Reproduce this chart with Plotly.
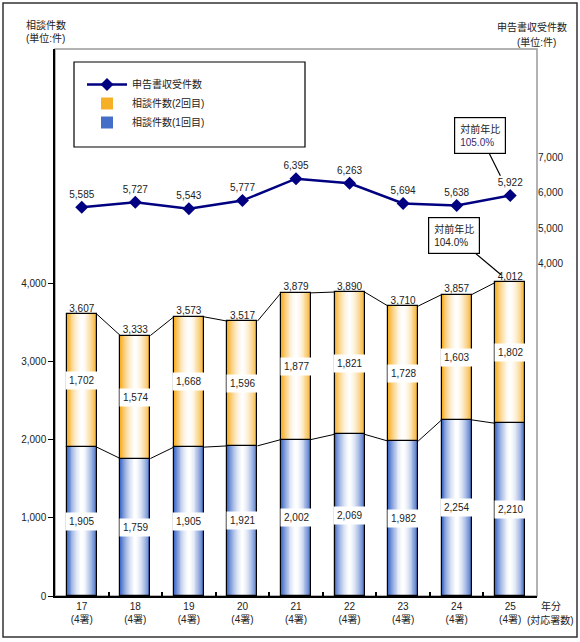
import plotly.graph_objects as go

# ---------------- data ----------------
years = ["17", "18", "19", "20", "21", "22", "23", "24", "25"]
stations = ["4署", "4署", "4署", "4署", "4署", "4署", "4署", "4署", "4署"]
consult_1st = [1905, 1759, 1905, 1921, 2002, 2069, 1982, 2254, 2210]
consult_2nd = [1702, 1574, 1668, 1596, 1877, 1821, 1728, 1603, 1802]
filings = [5585, 5727, 5543, 5777, 6395, 6263, 5694, 5638, 5922]
left_ticks = [0, 1000, 2000, 3000, 4000]
right_ticks = [4000, 5000, 6000, 7000]

FONT = "Liberation Sans, Noto Sans CJK JP, sans-serif"
BLUE_EDGE = (68, 110, 200)
ORANGE_EDGE = (246, 176, 40)
W = 0.56
N_LAYERS = 16

idx = list(range(len(years)))
totals = [a + b for a, b in zip(consult_1st, consult_2nd)]


def mix(c, a):
    r, g, b = (int(round(255 + (ci - 255) * a)) for ci in c)
    return f"rgb({r},{g},{b})"


fig = go.Figure()

# gradient-filled bars built from nested overlay bars
for seg, base, edge, name, rank in [
    (consult_1st, [0] * len(idx), BLUE_EDGE, "相談件数(1回目)", 3),
    (consult_2nd, consult_1st, ORANGE_EDGE, "相談件数(2回目)", 2),
]:
    for k in range(N_LAYERS):
        frac = (N_LAYERS - k) / N_LAYERS
        a = frac ** 1.7
        fig.add_trace(go.Bar(
            x=idx, y=seg, base=base, width=W * frac,
            marker=dict(color=mix(edge, a), line=dict(width=0)),
            name=name, showlegend=(k == 0), legendrank=rank,
            hoverinfo="skip", yaxis="y",
        ))
    # outline
    fig.add_trace(go.Bar(
        x=idx, y=seg, base=base, width=W,
        marker=dict(color="rgba(0,0,0,0)", line=dict(width=1.2, color="black")),
        showlegend=False, hoverinfo="skip", yaxis="y",
    ))

# series lines between bars
for tops in (consult_1st, totals):
    xs, ys = [], []
    for i in range(len(idx) - 1):
        xs += [idx[i] + W / 2, idx[i + 1] - W / 2, None]
        ys += [tops[i], tops[i + 1], None]
    fig.add_trace(go.Scatter(x=xs, y=ys, mode="lines",
                             line=dict(color="black", width=1),
                             showlegend=False, hoverinfo="skip", yaxis="y"))

# totals labels
fig.add_trace(go.Scatter(
    x=idx, y=totals, mode="text", text=[f"{v:,}" for v in totals],
    textposition="top center", textfont=dict(size=10, color="#222", family=FONT),
    showlegend=False, hoverinfo="skip", yaxis="y"))

# filings line
fig.add_trace(go.Scatter(
    x=idx, y=filings, mode="lines+markers+text", yaxis="y2",
    name="申告書収受件数", legendrank=1,
    line=dict(color="#000080", width=2.5),
    marker=dict(symbol="diamond", size=10, color="#000080"),
    text=[f"{v:,}" for v in filings], textposition="top center",
    textfont=dict(size=10, color="#222", family=FONT),
    hoverinfo="skip"))

annotations = []
# segment labels with white boxes
for i in idx:
    annotations.append(dict(x=i, y=consult_1st[i] / 2, xref="x", yref="y",
                            text=f"{consult_1st[i]:,}", showarrow=False,
                            bgcolor="white", borderpad=3,
                            font=dict(size=10, color="#222", family=FONT)))
    annotations.append(dict(x=i, y=consult_1st[i] + consult_2nd[i] / 2,
                            xref="x", yref="y",
                            text=f"{consult_2nd[i]:,}", showarrow=False,
                            bgcolor="white", borderpad=3,
                            font=dict(size=10, color="#222", family=FONT)))

# callouts
r_fil = filings[-1] / filings[-2] * 100
r_tot = totals[-1] / totals[-2] * 100
annotations.append(dict(x=idx[-1], y=filings[-1], xref="x", yref="y2",
                        text=f"対前年比<br><span style='color:#3a2a6a'>{r_fil:.1f}%</span>",
                        align="left", showarrow=True, arrowhead=0, arrowwidth=1.2,
                        arrowcolor="black", ax=-30, ay=-60, standoff=22,
                        bgcolor="white", bordercolor="black", borderwidth=1.2,
                        borderpad=5, font=dict(size=10, color="#222", family=FONT)))
annotations.append(dict(x=idx[-1], y=totals[-1], xref="x", yref="y",
                        text=f"対前年比<br>{r_tot:.1f}%",
                        align="left", showarrow=True, arrowhead=0, arrowwidth=1.2,
                        arrowcolor="black", ax=-56, ay=-47, standoff=12,
                        bgcolor="white", bordercolor="black", borderwidth=1.2,
                        borderpad=5, font=dict(size=10, color="#222", family=FONT)))

# axis titles
annotations += [
    dict(x=46, y=25, xref="paper", yref="paper", text="相談件数", showarrow=False),
    dict(x=45, y=38, xref="paper", yref="paper", text="(単位:件)", showarrow=False),
    dict(x=532, y=27, xref="paper", yref="paper", text="申告書収受件数", showarrow=False),
    dict(x=536, y=42, xref="paper", yref="paper", text="(単位:件)", showarrow=False),
    dict(x=551, y=606, xref="paper", yref="paper", text="年分", showarrow=False),
    dict(x=550, y=620, xref="paper", yref="paper", text="(対応署数)", showarrow=False),
]

# convert pixel positions for paper annotations
L, R, T, B = 55, 43, 49, 46
PW, PH = 580 - L - R, 642 - T - B
for a in annotations:
    if a.get("xref") == "paper":
        a["x"] = (a["x"] - L) / PW
        a["y"] = (642 - B - a["y"]) / PH
        a["font"] = dict(size=10, color="#222", family=FONT)
        a["xanchor"] = "center"
        a["yanchor"] = "middle"


def px(xp, yp):
    return (xp - L) / PW, (642 - B - yp) / PH


ox0, oy0 = px(3, 637)
ox1, oy1 = px(577, 3)
lx0, ly0 = px(74, 147)
lx1, ly1 = px(305, 62)
shapes = [
    dict(type="rect", xref="paper", yref="paper", x0=ox0, y0=oy0, x1=ox1, y1=oy1,
         line=dict(color="#333", width=1.5), layer="below"),
    dict(type="rect", xref="paper", yref="paper", x0=0, y0=0, x1=1, y1=1,
         line=dict(color="#999", width=1.5), layer="below"),
    dict(type="rect", xref="paper", yref="paper", x0=lx0, y0=ly0, x1=lx1, y1=ly1,
         line=dict(color="black", width=1.2), fillcolor="white", layer="above"),
]

fig.update_layout(
    width=580, height=642,
    margin=dict(l=L, r=R, t=T, b=B),
    paper_bgcolor="white", plot_bgcolor="white",
    barmode="overlay", bargap=0,
    font=dict(family=FONT, size=10, color="#222"),
    showlegend=True,
    legend=dict(x=px(82, 0)[0], y=px(0, 70)[1], xanchor="left", yanchor="top",
                bgcolor="rgba(0,0,0,0)", borderwidth=0,
                font=dict(size=10, family=FONT, color="#222"),
                tracegroupgap=10, itemwidth=40),
    xaxis=dict(range=[-0.5, len(idx) - 0.5], tickvals=idx,
               ticktext=[f"{y}<br>({s})" for y, s in zip(years, stations)],
               ticks="", showline=True, linecolor="black", linewidth=1.5,
               showgrid=False, zeroline=False,
               minor=dict(tickvals=[i + 0.5 for i in idx[:-1]], ticks="inside",
                          ticklen=4, tickcolor="black", tickwidth=1.5, showgrid=False),
               tickfont=dict(size=10, family=FONT, color="#222")),
    yaxis=dict(range=[0, 7000], tickvals=left_ticks, tickformat=",",
               ticks="outside", ticklen=5, tickcolor="black",
               showline=True, linecolor="black", linewidth=1.5,
               showgrid=False, zeroline=False,
               tickfont=dict(size=10, family=FONT, color="#222")),
    yaxis2=dict(range=[-5400, 10060], overlaying="y", side="right",
                tickvals=right_ticks, tickformat=",", ticks="",
                showline=False, showgrid=False, zeroline=False,
                tickfont=dict(size=10, family=FONT, color="#222")),
    annotations=annotations,
    shapes=shapes,
)

fig.write_html("out.html", config={"displayModeBar": False},
               post_script="document.body.style.margin='0';document.body.style.overflow='hidden';")
